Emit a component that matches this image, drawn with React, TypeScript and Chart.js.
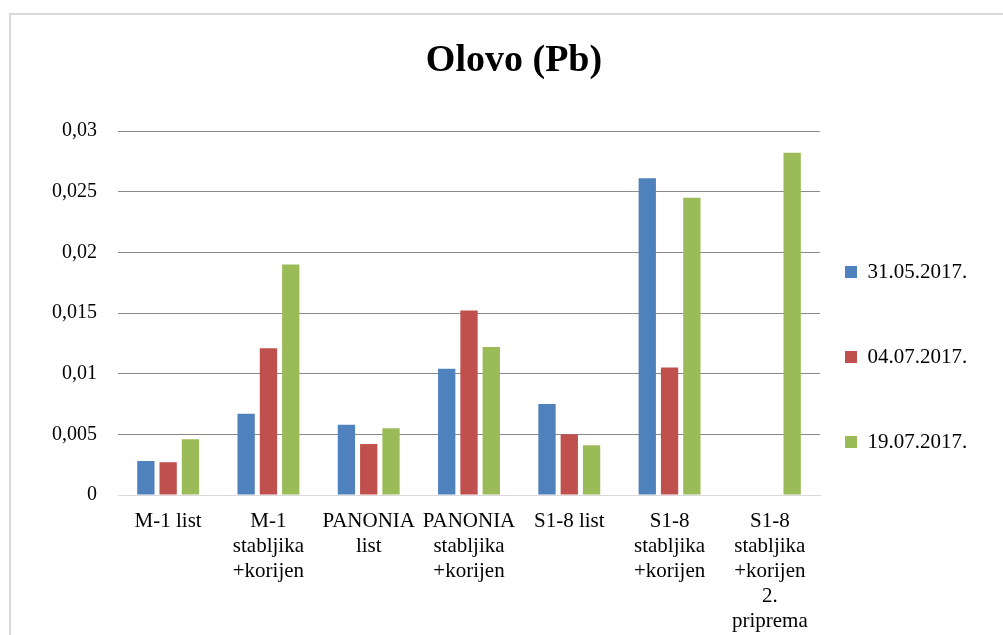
import React, { useEffect, useRef } from 'react';
import { Chart, registerables } from 'chart.js';

Chart.register(...registerables);

const categories: string[][] = [
  ['M-1 list'],
  ['M-1', 'stabljika', '+korijen'],
  ['PANONIA', 'list'],
  ['PANONIA', 'stabljika', '+korijen'],
  ['S1-8 list'],
  ['S1-8', 'stabljika', '+korijen'],
  ['S1-8', 'stabljika', '+korijen', '2.', 'priprema'],
];

const seriesNames = ['31.05.2017.', '04.07.2017.', '19.07.2017.'];

const series1 = [0.0028, 0.0067, 0.0058, 0.0104, 0.0075, 0.0261, null];
const series2 = [0.0027, 0.0121, 0.0042, 0.0152, 0.005, 0.0105, null];
const series3 = [0.0046, 0.019, 0.0055, 0.0122, 0.0041, 0.0245, 0.0282];

const yTickLabels = ['0', '0,005', '0,01', '0,015', '0,02', '0,025', '0,03'];

const colors = ['#4f81bd', '#c0504d', '#9bbb59'];

const spacer = ' '.repeat(40);

export default function App() {
  const ref = useRef<HTMLCanvasElement>(null);

  useEffect(() => {
    const values = [series1, series2, series3];
    const chart = new Chart(ref.current as HTMLCanvasElement, {
      type: 'bar',
      data: {
        labels: categories,
        datasets: seriesNames.map((name, i) => ({
          label: name,
          data: values[i],
          backgroundColor: colors[i],
          barPercentage: 0.776,
          categoryPercentage: 0.667,
        })),
      },
      options: {
        animation: false,
        responsive: false,
        maintainAspectRatio: false,
        devicePixelRatio: 1,
        layout: { padding: { left: 0, right: 4, top: 0, bottom: 0 } },
        plugins: {
          tooltip: { enabled: false },
          title: {
            display: true,
            text: 'Olovo (Pb)',
            color: '#000',
            font: { family: 'Liberation Serif', size: 38, weight: 'bold', lineHeight: 1.2 },
            padding: { top: 23, bottom: 47.4 },
          },
          legend: {
            display: true,
            position: 'right',
            align: 'center',
            maxWidth: 197,
            labels: {
              color: '#000',
              boxWidth: 12,
              boxHeight: 12,
              padding: 25,
              font: { family: 'Liberation Serif', size: 21, lineHeight: 20 / 21 },
              generateLabels: (c: any) => {
                const base = Chart.defaults.plugins.legend.labels.generateLabels(c);
                return base.map((item: any) => ({ ...item, text: [item.text, '', spacer] }));
              },
            },
          },
        },
        scales: {
          x: {
            grid: { display: false, drawTicks: false },
            border: { display: true, color: '#d9d9d9', width: 1 },
            ticks: {
              color: '#000',
              autoSkip: false,
              maxRotation: 0,
              minRotation: 0,
              padding: 14,
              font: { family: 'Liberation Serif', size: 21, lineHeight: 25 / 21 },
            },
            afterFit: (scale: any) => {
              scale.height = 243;
            },
          },
          y: {
            min: 0,
            max: 0.03,
            border: { display: false },
            grid: {
              drawTicks: false,
              lineWidth: 1,
              color: (ctx: any) => (ctx.tick && ctx.tick.value === 0 ? '#d9d9d9' : '#898989'),
            },
            ticks: {
              stepSize: 0.005,
              padding: 21,
              color: '#000',
              font: { family: 'Liberation Serif', size: 20 },
              callback: (_v: any, i: number) => yTickLabels[i],
            },
            afterFit: (scale: any) => {
              scale.width = 107;
            },
          },
        },
      },
    });
    return () => chart.destroy();
  }, []);

  return (
    <div
      style={{
        position: 'fixed',
        left: 0,
        top: 0,
        width: 1003,
        height: 635,
        overflow: 'hidden',
        background: '#fff',
      }}
    >
      <div
        style={{
          position: 'absolute',
          left: 9,
          top: 13,
          width: 1200,
          height: 800,
          border: '2px solid #d9d9d9',
        }}
      />
      <canvas
        ref={ref}
        width={1010}
        height={723}
        style={{ position: 'absolute', left: 11, top: 15, width: 1010, height: 723 }}
      />
    </div>
  );
}
